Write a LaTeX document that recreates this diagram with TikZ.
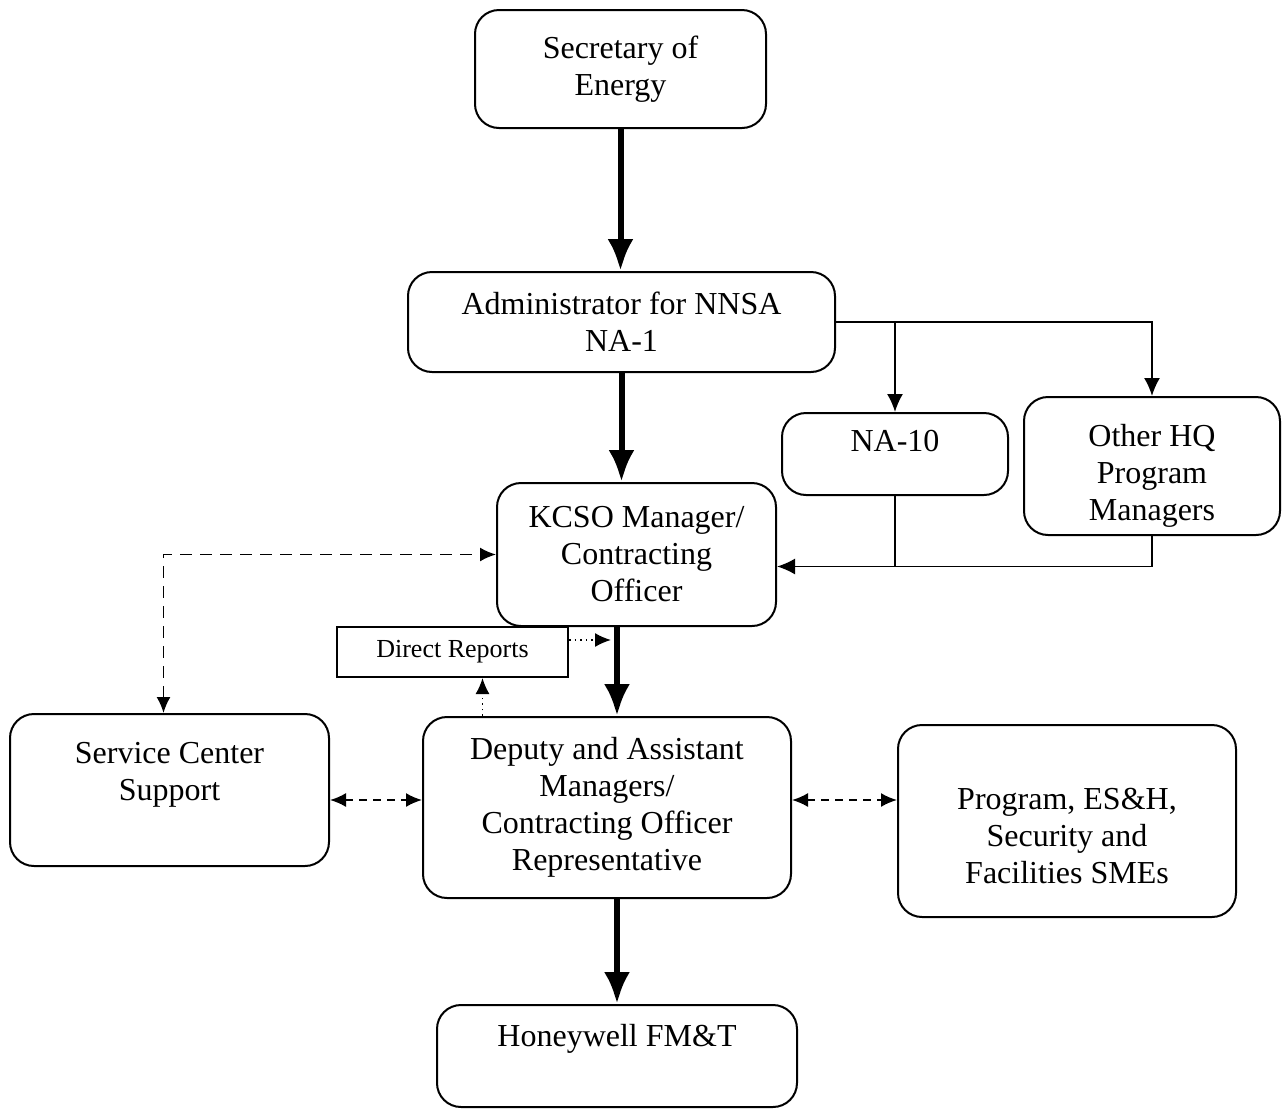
\documentclass[tikz,border=0pt]{standalone}
\usepackage{fontspec}
\setmainfont{Liberation Serif}
\usetikzlibrary{arrows.meta}
\begin{document}
\begin{tikzpicture}[x=0.5pt,y=-0.5pt,
	box/.style={draw,line width=1pt,rounded corners=12pt,align=center,
		font=\fontsize{16}{18.5}\selectfont,inner sep=0pt},
	drbox/.style={draw,line width=1pt,font=\fontsize{13}{15}\selectfont,inner sep=0pt},
	mainarrow/.style={line width=3pt,-{Latex[length=16pt,width=13pt]}},
	linkarrow/.style={line width=0.9pt,-{Latex[length=9pt,width=8pt]}},
	dasharrow/.style={line width=0.9pt,dash pattern=on 6pt off 4pt,
		{Latex[length=8pt,width=7pt]}-{Latex[length=8pt,width=7pt]}},
	shortdash/.style={line width=0.9pt,dash pattern=on 4pt off 3pt,
		{Latex[length=8pt,width=7pt]}-{Latex[length=8pt,width=7pt]}},
	dotarrow/.style={line width=0.8pt,dotted,-{Latex[length=8pt,width=7pt]}}]
	\useasboundingbox (0,0) rectangle (1282,1109);
	% boxes
	\node [box,minimum width=145.5pt,minimum height=59pt] (sec) at (620.5,69) {Secretary of\\Energy};
	\node [box,minimum width=213.5pt,minimum height=50pt] (admin) at (621.5,322) {Administrator for NNSA\\NA-1};
	\node [box,minimum width=113pt,minimum height=41pt] (na10) at (895,454) {NA-10\\[-11pt]\strut};
	\node [box,minimum width=128pt,minimum height=69pt] (ohq) at (1152,466) {\strut\\[-10.5pt]Other HQ\\Program\\Managers};
	\node [box,minimum width=139.5pt,minimum height=71.5pt] (kcso) at (636.5,554.5) {KCSO Manager/\\Contracting\\Officer};
	\node [drbox,minimum width=115.5pt,minimum height=25pt] (dr) at (452.5,652) {Direct Reports};
	\node [box,minimum width=159.5pt,minimum height=76pt] (svc) at (169.5,790) {Service Center\\Support\\[-5pt]\strut};
	\node [box,minimum width=184pt,minimum height=90.5pt] (dep) at (607,807.5) {Deputy and Assistant\\Managers/\\Contracting Officer\\Representative};
	\node [box,minimum width=169pt,minimum height=96pt] (prog) at (1067,821) {\strut\\[-6pt]Program, ES\&H,\\Security and\\Facilities SMEs};
	\node [box,minimum width=180pt,minimum height=51pt] (hw) at (617,1056) {Honeywell FM\&T\\[-3pt]\strut};
	% helper points
	\coordinate (kdown) at ([xshift=-9.75pt]kcso.south);
	\coordinate (kin) at ([yshift=-6pt]kcso.east);
	\coordinate (sup) at ([xshift=-3pt]svc.north);
	\coordinate (sright) at ([yshift=-5pt]svc.east);
	\coordinate (dright) at ([yshift=3.75pt]dep.east);
	\coordinate (drout) at ([yshift=6pt]dr.east);
	\coordinate (drin) at ([xshift=15pt]dr.south);
	% chain of command
	\draw [mainarrow] (sec.south) -- (sec.south |- admin.north);
	\draw [mainarrow] (admin.south) -- (admin.south |- kcso.north);
	\draw [mainarrow] (kdown) -- (kdown |- dep.north);
	\draw [mainarrow] (hw.north |- dep.south) -- (hw.north);
	% headquarters links
	\draw [linkarrow] (admin.east) -| (ohq.north);
	\draw [linkarrow] (admin.east -| na10.north) -- (na10.north);
	\draw [linkarrow] (ohq.south) |- (kin);
	\draw [line width=0.9pt] (na10.south) -- (na10.south |- kin);
	% support links
	\draw [dasharrow] (sup) |- (kcso.west);
	\draw [shortdash] (sright) -- (sright -| dep.west);
	\draw [shortdash] (dright) -- (dright -| prog.west);
	% direct reports
	\draw [dotarrow] (drout) -- ++(42,0);
	\draw [dotarrow] (drin |- dep.north) -- (drin);
\end{tikzpicture}
\end{document}
